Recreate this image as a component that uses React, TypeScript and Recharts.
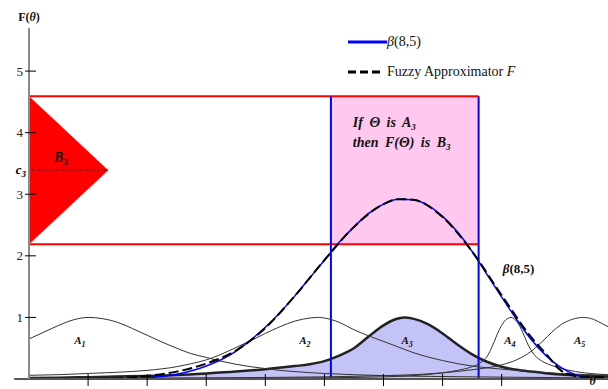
import React from "react";
import {
  Area,
  ComposedChart,
  Line,
  ReferenceArea,
  ReferenceDot,
  ReferenceLine,
  XAxis,
  YAxis,
} from "recharts";

type Pt = [number, number];

// membership functions A1..A5 as [theta, mu]
const a1: Pt[] = [
  [0, 0.65], [0.025, 0.76], [0.05, 0.87], [0.075, 0.96], [0.1, 1.0], [0.125, 0.98],
  [0.15, 0.92], [0.175, 0.82], [0.2, 0.71], [0.225, 0.6], [0.25, 0.5], [0.275, 0.41],
  [0.3, 0.35], [0.325, 0.29], [0.35, 0.24], [0.375, 0.2], [0.4, 0.17], [0.425, 0.14],
  [0.45, 0.12], [0.5, 0.09], [0.55, 0.07], [0.6, 0.055], [0.7, 0.04], [0.8, 0.03],
  [0.9, 0.022], [0.98, 0.018],
];
const a2: Pt[] = [
  [0, 0.06], [0.05, 0.07], [0.1, 0.09], [0.15, 0.11], [0.2, 0.14], [0.25, 0.2],
  [0.275, 0.25], [0.3, 0.31], [0.325, 0.4], [0.35, 0.51], [0.375, 0.62], [0.4, 0.74],
  [0.425, 0.85], [0.45, 0.94], [0.475, 0.99], [0.49, 1.0], [0.5, 0.99], [0.525, 0.92],
  [0.55, 0.8], [0.575, 0.7], [0.6, 0.61], [0.625, 0.52], [0.65, 0.43], [0.7, 0.3],
  [0.75, 0.21], [0.8, 0.16], [0.85, 0.12], [0.9, 0.09], [0.98, 0.06],
];
const a3: Pt[] = [
  [0, 0.015], [0.05, 0.02], [0.1, 0.03], [0.15, 0.04], [0.2, 0.05], [0.25, 0.065],
  [0.3, 0.09], [0.35, 0.12], [0.4, 0.16], [0.45, 0.21], [0.475, 0.24], [0.5, 0.29],
  [0.525, 0.38], [0.55, 0.5], [0.575, 0.69], [0.6, 0.87], [0.62, 0.97], [0.635, 1.0],
  [0.65, 0.98], [0.675, 0.89], [0.7, 0.74], [0.725, 0.56], [0.75, 0.4], [0.775, 0.28],
  [0.8, 0.2], [0.825, 0.15], [0.85, 0.12], [0.875, 0.095], [0.9, 0.075], [0.925, 0.06],
  [0.95, 0.05], [0.98, 0.04],
];
const a4: Pt[] = [
  [0, 0.005], [0.3, 0.01], [0.5, 0.02], [0.6, 0.035], [0.65, 0.055], [0.7, 0.1],
  [0.725, 0.14], [0.75, 0.2], [0.765, 0.27], [0.775, 0.36], [0.785, 0.55], [0.795, 0.78],
  [0.805, 0.94], [0.816, 1.0], [0.826, 0.93], [0.836, 0.75], [0.845, 0.55], [0.853, 0.42],
  [0.865, 0.31], [0.882, 0.23], [0.91, 0.15], [0.94, 0.1], [0.98, 0.07],
];
const a5: Pt[] = [
  [0, 0.01], [0.2, 0.015], [0.4, 0.025], [0.5, 0.035], [0.6, 0.055], [0.65, 0.07],
  [0.7, 0.1], [0.75, 0.15], [0.8, 0.23], [0.825, 0.31], [0.85, 0.45], [0.87, 0.62],
  [0.885, 0.76], [0.9, 0.88], [0.92, 0.97], [0.938, 1.0], [0.955, 0.97], [0.97, 0.9],
  [0.98, 0.85],
];

// target density beta(8,5) and the fuzzy approximator F
const beta85: Pt[] = [
  [0, 0], [0.1, 0], [0.15, 0.004], [0.2, 0.021], [0.25, 0.077], [0.3, 0.21],
  [0.35, 0.45], [0.375, 0.63], [0.4, 0.84], [0.425, 1.08], [0.45, 1.35], [0.475, 1.64],
  [0.5, 1.93], [0.525, 2.22], [0.55, 2.47], [0.575, 2.69], [0.6, 2.84], [0.625, 2.92],
  [0.65, 2.91], [0.675, 2.82], [0.7, 2.64], [0.725, 2.39], [0.75, 2.07], [0.775, 1.7],
  [0.8, 1.33], [0.825, 0.97], [0.85, 0.64], [0.875, 0.38], [0.9, 0.19], [0.925, 0.07],
  [0.95, 0.017], [0.975, 0.001], [0.98, 0],
];
const fuzzyF: Pt[] = [
  [0, 0], [0.1, 0], [0.15, 0.01], [0.2, 0.05], [0.25, 0.12], [0.3, 0.25], [0.35, 0.46],
  [0.4, 0.83], [0.45, 1.35], [0.5, 1.93], [0.55, 2.47], [0.6, 2.84], [0.625, 2.92],
  [0.65, 2.91], [0.7, 2.63], [0.75, 2.07], [0.8, 1.36], [0.85, 0.68], [0.875, 0.41],
  [0.9, 0.14], [0.92, 0.06], [0.94, 0.03], [0.98, 0.03],
];

const thetaTicks = [0.1, 0.2, 0.3, 0.4, 0.5, 0.6, 0.7, 0.8];
const yTicks = [1, 2, 3, 3.39, 4, 5];
const c3 = 3.39;
const bLo = 2.19;
const bHi = 4.59;
const aLeft = 0.511;
const aRight = 0.761;
const triTip = 0.134;

const setLabels = [
  { name: "A", sub: "1", t: 0.086 },
  { name: "A", sub: "2", t: 0.467 },
  { name: "A", sub: "3", t: 0.64 },
  { name: "A", sub: "4", t: 0.814 },
  { name: "A", sub: "5", t: 0.932 },
];

const rows = (pts: Pt[]) => pts.map(([t, v]) => ({ t, v }));
const triangle = [
  { t: 0, v: [bLo, bHi] },
  { t: triTip, v: [c3, c3] },
];

const FONT = '"Liberation Serif", "Times New Roman", serif';

function YTick(props: any) {
  const { x, y, payload } = props;
  if (payload.value === c3) {
    return (
      <text x={x - 3} y={y + 4} textAnchor="end" fontFamily={FONT} fontSize={13} fontWeight="bold" fontStyle="italic">
        c<tspan fontSize={9} dy={3}>3</tspan>
      </text>
    );
  }
  return (
    <g>
      <line x1={x - 4} x2={x + 7} y1={y} y2={y} stroke="#000" strokeWidth={1} />
      <text x={x - 6} y={y + 4.5} textAnchor="end" fontFamily={FONT} fontSize={13} fill="#222">
        {payload.value}
      </text>
    </g>
  );
}

function XTick(props: any) {
  const { x, y } = props;
  return <line x1={x} x2={x} y1={y - 5} y2={y + 7} stroke="#000" strokeWidth={1} />;
}

const note = (content: React.ReactNode, anchor = "start", size = 13, italic = true, bold = true, gap = 0) =>
  (p: any) => (
    <text
      x={p.cx}
      y={p.cy}
      textAnchor={anchor}
      fontFamily={FONT}
      fontSize={size}
      fontWeight={bold ? "bold" : "normal"}
      fontStyle={italic ? "italic" : "normal"}
      style={{ wordSpacing: gap }}
      fill="#111"
    >
      {content}
    </text>
  );

export default function App() {
  return (
    <div style={{ position: "absolute", left: 0, top: 0, width: 608, height: 389, background: "#fff", fontFamily: FONT }}>
      <ComposedChart width={608} height={389} margin={{ top: 28, right: 0, bottom: 0, left: 0 }}>
        <XAxis
          type="number"
          dataKey="t"
          domain={[0, 0.98]}
          ticks={thetaTicks}
          interval={0}
          height={10}
          tickSize={0}
          tickMargin={0}
          tick={XTick}
          axisLine={{ stroke: "#555", strokeWidth: 2 }}
        />
        <YAxis
          type="number"
          domain={[0, 5.7]}
          ticks={yTicks}
          interval={0}
          width={29}
          tickSize={0}
          tickMargin={0}
          tick={YTick}
          axisLine={{ stroke: "#8a8a8a", strokeWidth: 2 }}
        />

        <ReferenceArea x1={aLeft} x2={aRight} y1={bLo} y2={bHi} fill="#ffc8ee" fillOpacity={1} stroke="none" />
        <Area data={triangle} dataKey="v" type="linear" fill="#ff0000" fillOpacity={1} stroke="none" isAnimationActive={false} />
        <ReferenceLine segment={[{ x: 0, y: c3 }, { x: triTip, y: c3 }]} stroke="#000" strokeDasharray="1 2" strokeWidth={1} />
        <ReferenceLine segment={[{ x: -0.025, y: 0 }, { x: 0, y: 0 }]} stroke="#555" strokeWidth={2} ifOverflow="visible" />

        <Area
          data={rows(a3)}
          dataKey="v"
          type="monotone"
          fill="#c3c3f7"
          fillOpacity={1}
          stroke="#222"
          strokeWidth={2.5}
          isAnimationActive={false}
        />

        <ReferenceLine segment={[{ x: 0, y: bHi }, { x: aRight, y: bHi }]} stroke="#ff0000" strokeWidth={2} />
        <ReferenceLine segment={[{ x: 0, y: bLo }, { x: aRight, y: bLo }]} stroke="#ff0000" strokeWidth={2} />
        <ReferenceLine segment={[{ x: aLeft, y: 0 }, { x: aLeft, y: bHi }]} stroke="#0000ff" strokeWidth={2} />
        <ReferenceLine segment={[{ x: aRight, y: 0 }, { x: aRight, y: bHi }]} stroke="#0000ff" strokeWidth={2} />

        {[a1, a2, a4, a5].map((pts, i) => (
          <Line
            key={i}
            data={rows(pts)}
            dataKey="v"
            type="monotone"
            stroke="#333"
            strokeWidth={1}
            dot={false}
            isAnimationActive={false}
          />
        ))}
        <Line data={rows(beta85)} dataKey="v" type="monotone" stroke="#0000ff" strokeWidth={1.5} dot={false} isAnimationActive={false} />
        <Line
          data={rows(fuzzyF)}
          dataKey="v"
          type="monotone"
          stroke="#000"
          strokeWidth={2}
          strokeDasharray="10 4"
          dot={false}
          isAnimationActive={false}
        />

        {setLabels.map((s) => (
          <ReferenceDot
            key={s.sub}
            x={s.t}
            y={0.57}
            r={0}
            shape={note(
              <>
                {s.name}
                <tspan fontSize={8} dy={3}>{s.sub}</tspan>
              </>,
              "middle",
              11
            )}
          />
        ))}
        <ReferenceDot x={0.054} y={3.52} r={0} shape={note(<>B<tspan fontSize={9} dy={3}>3</tspan></>, "middle", 14)} />
        <ReferenceDot
          x={0.548}
          y={4.09}
          r={0}
          shape={note(<>If Θ is A<tspan fontSize={9} dy={3}>3</tspan></>, "start", 14, true, true, 3)}
        />
        <ReferenceDot
          x={0.548}
          y={3.77}
          r={0}
          shape={note(<>then F(Θ) is B<tspan fontSize={9} dy={3}>3</tspan></>, "start", 14, true, true, 3)}
        />
        <ReferenceDot x={0.802} y={1.72} r={0} shape={note(<><tspan fontStyle="italic">β</tspan><tspan fontStyle="normal">(8,5)</tspan></>)} />
        <ReferenceDot x={0.954} y={-0.1} r={0} ifOverflow="visible" shape={note("θ", "middle", 12)} />
        <ReferenceDot
          x={0}
          y={5.82}
          r={0}
          ifOverflow="visible"
          shape={note(<>F(<tspan fontStyle="italic">θ</tspan>)</>, "middle", 12, false)}
        />
      </ComposedChart>

      <div style={{ position: "absolute", left: 348, top: 32, fontSize: 14, color: "#111", whiteSpace: "nowrap", fontFamily: FONT }}>
        <div style={{ display: "flex", alignItems: "center", height: 19 }}>
          <svg width={39} height={6}>
            <line x1={0} x2={39} y1={3} y2={3} stroke="#0000ff" strokeWidth={3} />
          </svg>
          <span>
            <i>β</i>(8,5)
          </span>
        </div>
        <div style={{ display: "flex", alignItems: "center", height: 19, marginTop: 11 }}>
          <svg width={34} height={6} style={{ marginRight: 5 }}>
            <line x1={0} x2={34} y1={3} y2={3} stroke="#000" strokeWidth={3} strokeDasharray="8 4" />
          </svg>
          <span>
            Fuzzy Approximator <i>F</i>
          </span>
        </div>
      </div>
    </div>
  );
}
